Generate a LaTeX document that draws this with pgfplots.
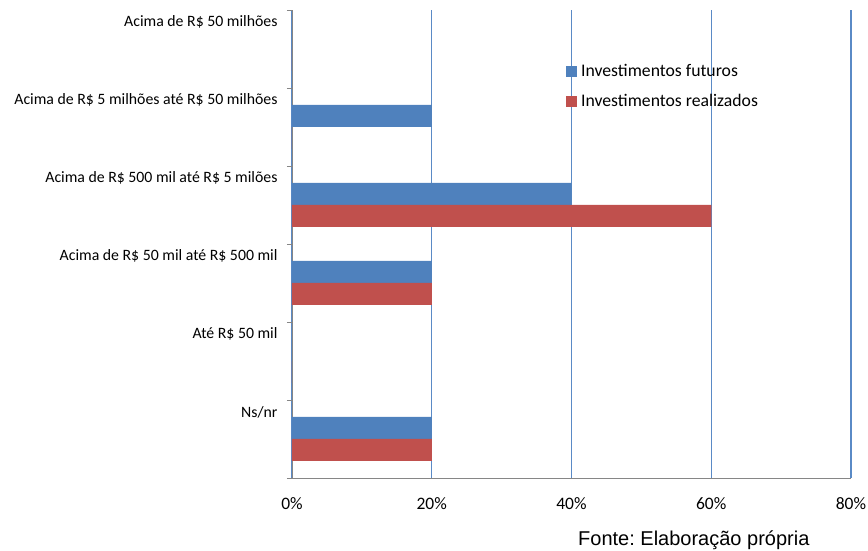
\documentclass[border=0pt]{standalone}
\usepackage{pgfplots}
\pgfplotsset{compat=1.18}
\usepackage{fontspec}
\setmainfont{Carlito}
\newfontfamily\arialf{Liberation Sans}
\definecolor{cblue}{RGB}{79,129,189}
\definecolor{cred}{RGB}{192,80,77}
\definecolor{cgrid}{RGB}{90,138,198}
\definecolor{caxis}{RGB}{134,134,134}
\begin{document}
\frenchspacing
\begin{tikzpicture}[x=1pt,y=1pt]
\useasboundingbox (0,0) rectangle (868,551);
\begin{axis}[
  at={(292pt,73pt)}, anchor=south west,
  scale only axis, width=559pt, height=468pt,
  xmin=0, xmax=80, ymin=-0.5, ymax=5.5,
  axis x line*=bottom, axis y line*=left,
  x axis line style={-, draw=caxis, line width=0.9pt},
  y axis line style={-, draw=caxis, line width=0.9pt},
  /pgf/number format/assume math mode=true,
  xtick={0,20,40,60,80},
  xticklabels={0\%,20\%,40\%,60\%,80\%},
  major x tick style={draw=none},
  xticklabel style={font=\fontsize{17.5}{20}\selectfont, yshift=-16pt},
  xmajorgrids,
  major x grid style={color=cgrid, line width=1.1pt},
  ytick={0,1,2,3,4,5},
  yticklabels={Ns/nr, Até R\$ 50 mil, Acima de R\$ 50 mil até R\$ 500 mil, Acima de R\$ 500 mil até R\$ 5 milões, Acima de R\$ 5 milhões até R\$ 50 milhões, Acima de R\$ 50 milhões},
  major y tick style={draw=none},
  yticklabel style={font=\fontsize{15.8}{18}\selectfont, yshift=27pt, xshift=-11pt},
  extra y ticks={-0.5,0.5,1.5,2.5,3.5,4.5,5.5},
  extra y tick labels={},
  extra y tick style={major tick length=5pt, tick align=outside, major y tick style={draw=caxis, line width=0.8pt}},
  legend style={at={(0.490,0.888)}, anchor=north west, draw=none, fill=none,
    font=\fontsize{17.7}{20}\selectfont, row sep=12pt, inner sep=0pt,
    nodes={inner xsep=4pt}},
  legend cell align=left,
  legend image code/.code={\fill[#1] (0pt,-5.5pt) rectangle (11pt,5.5pt);},
]
\addplot[xbar, bar width=22pt, bar shift=11pt, fill=cblue, draw=none]
  coordinates {(20,0) (0,1) (20,2) (40,3) (20,4) (0,5)};
\addplot[xbar, bar width=22pt, bar shift=-11pt, fill=cred, draw=none]
  coordinates {(20,0) (0,1) (20,2) (60,3) (0,4) (0,5)};
\legend{Investimentos futuros, Investimentos realizados}
\end{axis}
\node[anchor=base west, font=\arialf\fontsize{20}{24}\selectfont, inner sep=0pt] at (578,5) {Fonte: Elaboração própria};
\end{tikzpicture}
\end{document}
